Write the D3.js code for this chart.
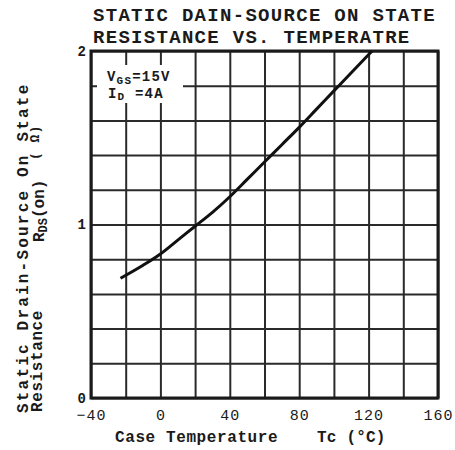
<!DOCTYPE html>
<html>
<head>
<meta charset="utf-8">
<script src="https://cdn.jsdelivr.net/npm/d3@7"></script>
<style>
  body { margin: 0; background: #fff; }
  text { font-family: "Liberation Mono", "DejaVu Sans Mono", monospace; fill: #1a1a1a; }
</style>
</head>
<body>
<div id="chart"></div>
<script>
// data
var tempC = [-23, -10, 0, 10, 20, 30, 40, 50, 60, 70, 80, 90, 100, 110, 122];
var rdsOn = [0.69, 0.765, 0.83, 0.91, 0.99, 1.07, 1.16, 1.26, 1.36, 1.46, 1.56, 1.665, 1.77, 1.875, 2.0];
var xTickLabels = [-40, 0, 40, 80, 120, 160];
var yTickLabels = [0, 1, 2];

// set the dimensions and margins of the graph
var margin = {top: 51, right: 17, bottom: 52, left: 91},
    width = 455 - margin.left - margin.right,
    height = 450 - margin.top - margin.bottom;

var svgRoot = d3.select("#chart")
  .append("svg")
    .attr("width", 455)
    .attr("height", 450);

var svg = svgRoot.append("g")
    .attr("transform", "translate(" + margin.left + "," + margin.top + ")");

var x = d3.scaleLinear().domain([-40, 160]).range([0, width]);
var y = d3.scaleLinear().domain([0, 2]).range([height, 0]);

// grid lines
svg.append("g")
  .attr("transform", "translate(0," + height + ")")
  .call(d3.axisBottom(x).tickValues(d3.range(-40, 161, 20)).tickSize(-height).tickFormat(""))
  .call(function(g) {
    g.select(".domain").remove();
    g.selectAll("line").attr("stroke", "#2a2a2a").attr("stroke-width", 2);
  });

svg.append("g")
  .call(d3.axisLeft(y).tickValues(d3.range(0, 2.001, 0.2)).tickSize(-width).tickFormat(""))
  .call(function(g) {
    g.select(".domain").remove();
    g.selectAll("line").attr("stroke", "#2a2a2a").attr("stroke-width", 2);
  });

// frame
svg.append("rect")
  .attr("width", width)
  .attr("height", height)
  .attr("fill", "none")
  .attr("stroke", "#1a1a1a")
  .attr("stroke-width", 3);

// tick labels
svg.append("g")
  .attr("transform", "translate(0," + height + ")")
  .call(d3.axisBottom(x).tickValues(xTickLabels).tickSize(0).tickPadding(11))
  .call(function(g) {
    g.select(".domain").remove();
    g.selectAll("text")
      .style("font-family", "Liberation Mono")
      .style("font-size", "15px")
      .style("letter-spacing", "1px")
      .attr("fill", "#1a1a1a");
  });

svg.append("g")
  .call(d3.axisLeft(y).tickValues(yTickLabels).tickFormat(d3.format("d")).tickSize(0).tickPadding(5))
  .call(function(g) {
    g.select(".domain").remove();
    g.selectAll("text")
      .style("font-family", "Liberation Mono")
      .style("font-size", "14px")
      .style("font-weight", "bold")
      .attr("fill", "#1a1a1a");
  });

// curve
var pts = tempC.map(function(t, i) { return [t, rdsOn[i]]; });
svg.append("path")
  .datum(pts)
  .attr("fill", "none")
  .attr("stroke", "#111")
  .attr("stroke-width", 3)
  .attr("d", d3.line()
    .x(function(d) { return x(d[0]); })
    .y(function(d) { return y(d[1]); })
    .curve(d3.curveMonotoneX));

// condition box
svg.append("rect")
  .attr("x", 6).attr("y", 14)
  .attr("width", 86).attr("height", 38)
  .attr("fill", "#fff");

var cond = svg.append("text")
  .attr("x", 16).attr("y", 30)
  .style("font-size", "14px").style("font-weight", "bold").style("letter-spacing", "1.2px");
cond.append("tspan").text("V");
cond.append("tspan").attr("dy", 3).style("font-size", "11px").text("GS");
cond.append("tspan").attr("dy", -3).text("=15V");

var cond2 = svg.append("text")
  .attr("x", 17).attr("y", 47)
  .style("font-size", "14px").style("font-weight", "bold").style("letter-spacing", "1.2px");
cond2.append("tspan").text("I");
cond2.append("tspan").attr("dy", 2).style("font-size", "11px").text("D");
cond2.append("tspan").attr("dy", -2).text(" =4A");

// title
svgRoot.append("text")
  .attr("x", 93).attr("y", 21)
  .style("font-size", "19px").style("font-weight", "bold").style("letter-spacing", "1.3px")
  .text("STATIC DAIN-SOURCE ON STATE");
svgRoot.append("text")
  .attr("x", 93).attr("y", 43)
  .style("font-size", "19px").style("font-weight", "bold").style("letter-spacing", "1.3px")
  .text("RESISTANCE VS. TEMPERATRE");

// x axis title
svgRoot.append("text")
  .attr("x", 115).attr("y", 442)
  .style("font-size", "16px").style("font-weight", "bold").style("letter-spacing", "0.6px")
  .text("Case Temperature");
svgRoot.append("text")
  .attr("x", 317).attr("y", 442)
  .style("font-size", "16px").style("font-weight", "bold").style("letter-spacing", "0.2px")
  .text("Tc (\u00b0C)");

// y axis title (rotated)
var yl = svgRoot.append("g").attr("transform", "rotate(-90)");
yl.append("text")
  .attr("x", -413).attr("y", 28)
  .style("font-size", "16px").style("font-weight", "bold").style("letter-spacing", "2.2px")
  .text("Static Drain-Source On State");
yl.append("text")
  .attr("x", -412).attr("y", 42)
  .style("font-size", "16px").style("font-weight", "bold").style("letter-spacing", "0.6px")
  .text("Resistance");
var rds = yl.append("text")
  .attr("x", -242).attr("y", 44)
  .style("font-size", "16px").style("font-weight", "bold");
rds.append("tspan").text("R");
rds.append("tspan").attr("dy", 3).style("font-size", "12px").text("DS");
rds.append("tspan").attr("dy", -3).text("(on)");
yl.append("text")
  .attr("x", -160).attr("y", 39)
  .style("font-size", "13px").style("font-weight", "bold").style("letter-spacing", "1px")
  .text("( \u03a9)");
</script>
</body>
</html>
